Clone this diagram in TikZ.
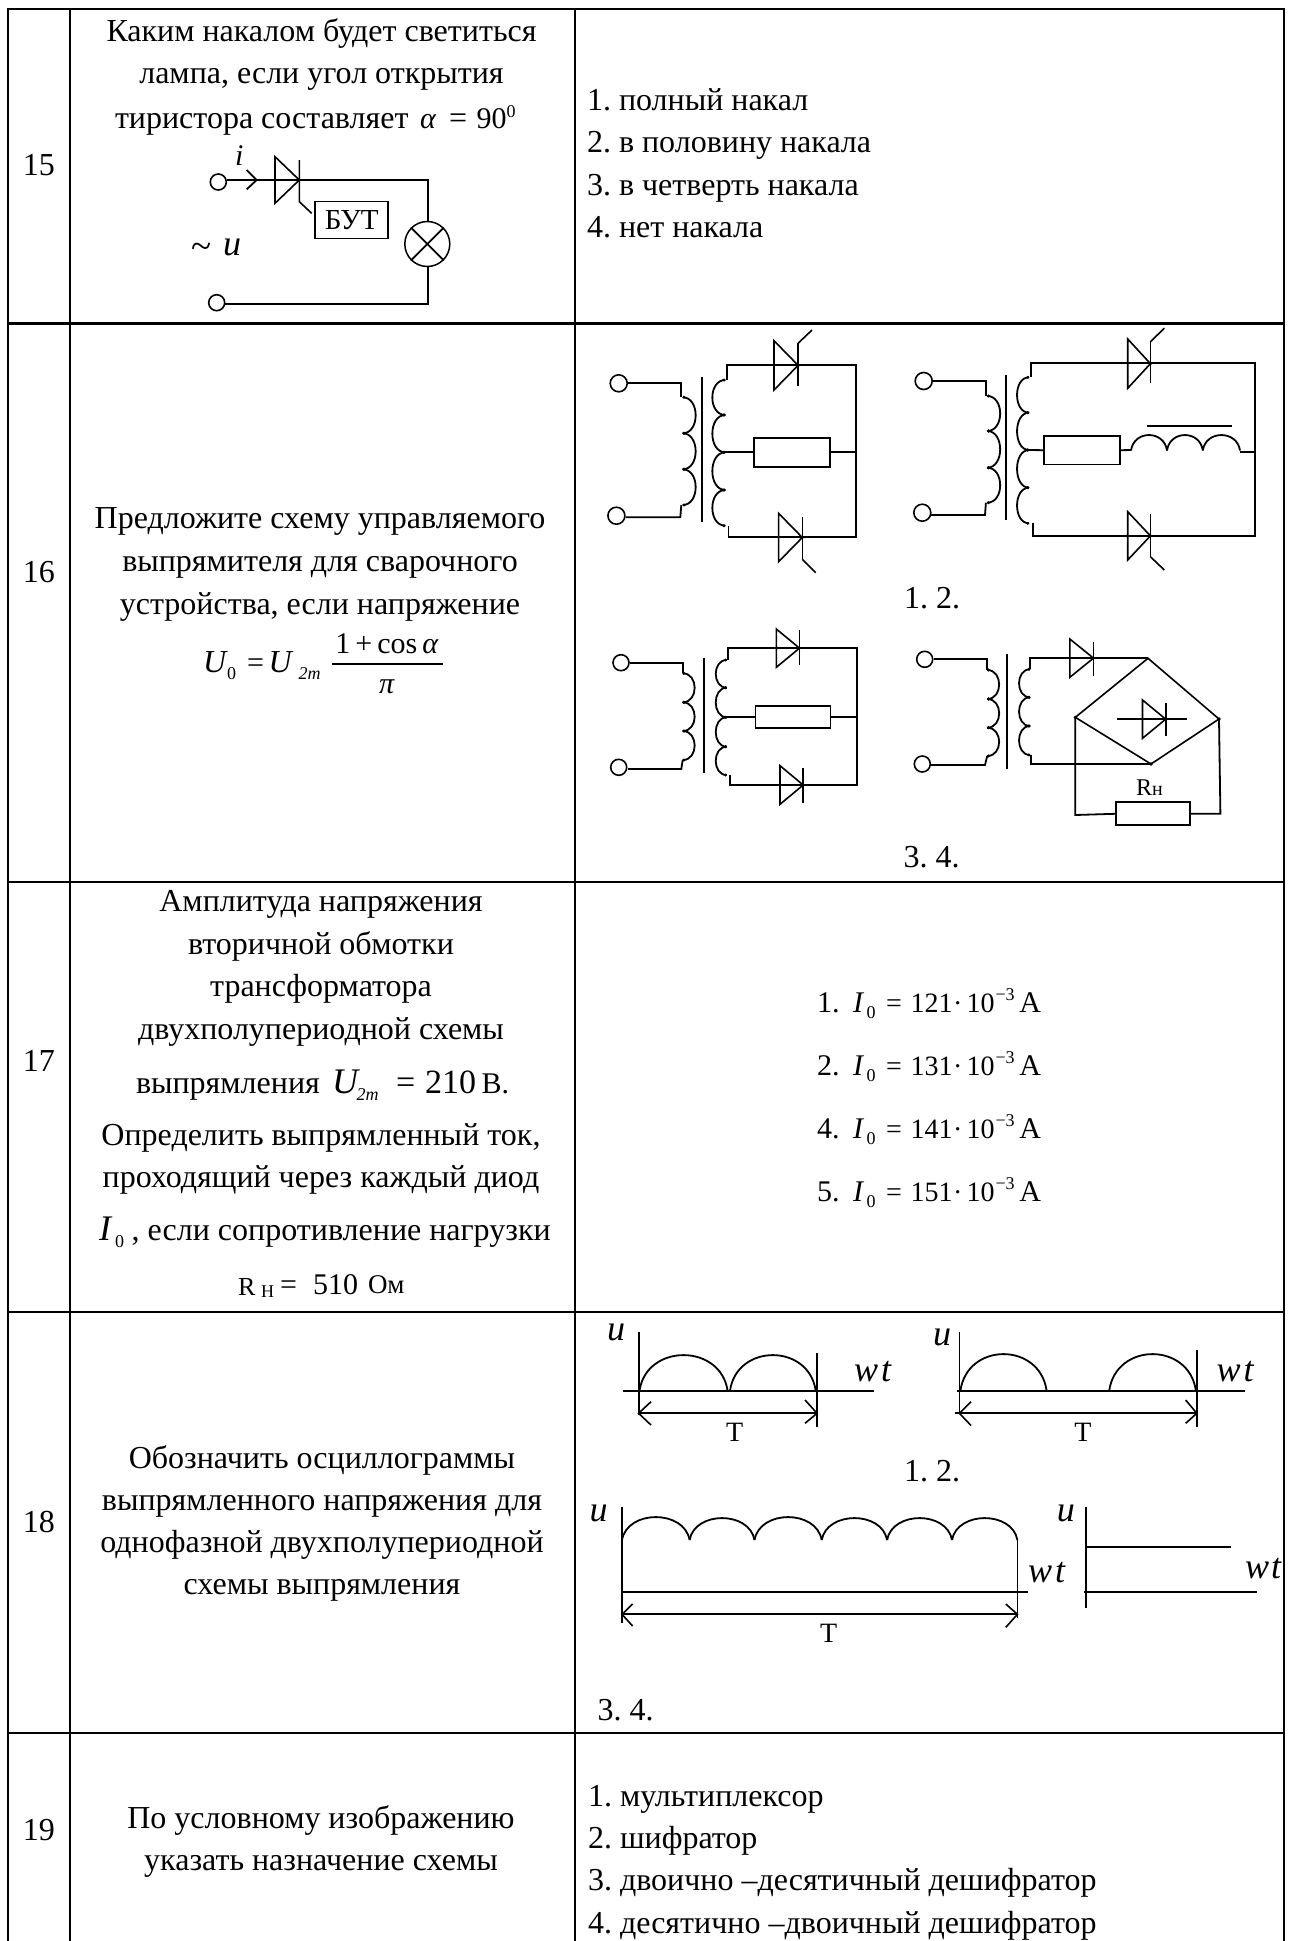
\documentclass[tikz,border=0pt]{standalone}
\usepackage{fontspec}
\setmainfont{Liberation Serif}
\newcommand\fsz[1]{\fontsize{#1}{#1}\selectfont\frenchspacing}
\newcommand\vcoil[3]{\foreach \a/\b in {#3}{\draw[wire] (#1,\a) .. controls ({#1+#2*1.33},\a) and ({#1+#2*1.33},\b) .. (#1,\b);\fill ({#1+#2*0.1},\a) circle (1.6);\fill ({#1+#2*0.1},\b) circle (1.6);}}
\newcommand\harc[4]{\draw[wire] (#1,#3) .. controls ({#1+(#2-#1)*0.08},{#3-(#3-#4)*1.33}) and ({#2-(#2-#1)*0.08},{#3-(#3-#4)*1.33}) .. (#2,#3);}
\newcommand\diode[6]{\draw[thin wire] (#1,#2) -- (#1,#3) -- (#4,{(#2+#3)/2}) -- cycle; \draw[thin wire] (#4,#5) -- (#4,#6); \fill (#4,{(#2+#3)/2}) circle (1.8);}
\tikzset{
  x=1pt,y=-1pt,
  wire/.style={line width=1.8pt,line join=miter},
  thin wire/.style={line width=1.6pt,line join=miter},
  tbl/.style={line width=2.6pt,line cap=rect},
  txt/.style={anchor=base,inner sep=0pt,outer sep=0pt,font=\fsz{32}},
  txtl/.style={txt,anchor=base west},
  smalll/.style={txtl,font=\fsz{28}},
  smallc/.style={txt,font=\fsz{28}},
  mathb/.style={txtl,font=\fsz{32}\itshape},
  subs/.style={txtl,font=\fsz{18}},
  subi/.style={txtl,font=\fsz{18}\itshape},
  plotlbl/.style={txtl,font=\fsz{36}\itshape},
  term/.style={line width=1.6pt,fill=white},
}
\begin{document}
\begin{tikzpicture}
\useasboundingbox (0,0) rectangle (1291,1941);
% table
\draw[tbl] (8,9) -- (1284,9);
\foreach \yy in {323.5,882,1312,1733} \draw[tbl] (8,\yy) -- (1284,\yy);
\foreach \xx in {8,70,575,1284} \draw[tbl,line cap=butt] (\xx,9) -- (\xx,1941);
% numbers
\node[txt] (n15) at (39,175) {15};
\node[txt] (n16) at (39,582) {16};
\node[txt] (n17) at (39,1071) {17};
\node[txt] (n18) at (39,1532) {18};
\node[txt] (n19) at (39,1840) {19};
% ---- row 15
\node[txt] (q15a) at (321.5,41.7) {Каким накалом будет светиться};
\node[txt] (q15b) at (321.5,83.3) {лампа, если угол открытия};
\node[txtl] (q15c) at (115,128.3) {тиристора составляет};
\node[txtl,font=\fsz{30}\itshape] (q15al) at (420,128.3) {α};
\node[txtl] (q15eq) at (449,128.3) {=};
\node[txtl,font=\fsz{30}] (q15n) at (476.7,128.3) {90};
\node[subs] (q15s) at (506.7,117) {0};
\foreach \nm/\yy/\tx in {a15a/110/{1. полный накал},a15b/152/{2. в половину накала},a15c/195/{3. в четверть накала},a15d/237/{4. нет накала}}
  \node[txtl] (\nm) at (587,\yy) {\tx};
% circuit 15
\draw[wire] (226.7,180) -- (428.3,180) -- (428.3,221.7);
\draw[wire] (428.3,266) -- (428.3,304) -- (225,304);
\draw[wire] (246.7,170) -- (256.7,180) -- (246.7,189.3);
\draw[term] (218.3,182) circle (8);
\draw[term] (216.7,302.7) circle (8);
\draw[thin wire] (275,156.7) -- (275,203.3) -- (299.3,180) -- cycle;
\draw[thin wire] (299.3,160) -- (299.3,201.7) -- (311.7,213.3);
\fill (299.3,180) circle (1.8);
\node[draw,line width=1.5pt,minimum width=73pt,minimum height=36.6pt,inner sep=0pt,font=\fsz{29}] (but) at (351.7,220) {БУТ};
\node[draw,circle,line width=1.5pt,minimum size=45pt,inner sep=0pt] (lamp) at (427.3,244) {};
\draw[wire] (lamp.north west) -- (lamp.south east);
\draw[wire] (lamp.north east) -- (lamp.south west);
\node[plotlbl,font=\fsz{30}\itshape] (li) at (235,165) {i};
\node[txtl,font=\fsz{37}] (ltil) at (191,258) {\textasciitilde};
\node[plotlbl] (lu) at (223,255) {u};
% ---- row 16 left
\node[txt] (q16a) at (320,528.3) {Предложите схему управляемого};
\node[txt] (q16b) at (320,571.7) {выпрямителя для сварочного};
\node[txt] (q16c) at (320,614.3) {устройства, если напряжение};
\node[mathb] (f1) at (203,672.7) {U};
\node[subs] (f2) at (227,679) {0};
\node[txtl,font=\fsz{30}] (f3) at (247,672.7) {=};
\node[mathb] (f4) at (268.7,672.7) {U};
\node[subs] (f5) at (298.7,679) {\textit{2m}};
\node[txt,font=\fsz{30}] (f6) at (387,653.3) {1\,+\,cos\,\textit{α}};
\draw[line width=1.4pt] (332,664) -- (443,664);
\node[txt,font=\fsz{30}\itshape] (f7) at (386.7,693.3) {π};
% ---- circuit 1
\draw[wire] (628,383.3) -- (681.3,383.3) -- (681.3,397.3);
\vcoil{682.7}{13}{397.3/433.3,433.3/469.3,469.3/505}
\draw[wire] (681.3,505) -- (680.3,517.3) -- (625.6,517.3);
\draw[term] (618.7,383.3) circle (8.5);
\draw[term] (616.4,515.7) circle (8.5);
\draw[thin wire] (702.1,376.7) -- (702.1,521.7);
\vcoil{725.3}{-13}{380/415,415/452.3,452.3/490,490/525.7}
\draw[wire] (726.7,380) -- (726.7,365) -- (856,365) -- (856,537.3) -- (728.5,537.3) -- (728.5,525.7);
\diode{774}{340.7}{390}{798.1}{343.3}{386}
\draw[thin wire] (798.1,343.3) -- (812,330);
\diode{778.6}{513.3}{561.7}{802.3}{516.7}{559.3}
\draw[thin wire] (802.3,559.3) -- (815.7,572.7);
\draw[wire] (724.4,452.3) -- (856,452.3);
\node[draw,fill=white,line width=1.8pt,minimum width=75.6pt,minimum height=28.4pt,inner sep=0pt] (r1) at (791.8,452.5) {};
% ---- circuit 2
\draw[wire] (932.5,381) -- (985.9,381) -- (985.9,396);
\vcoil{987.2}{13}{396/431,431/467.7,467.7/502.7}
\draw[wire] (985.9,502.7) -- (985,515) -- (930.7,515);
\draw[term] (923.7,381) circle (8.5);
\draw[term] (922.3,512.7) circle (8.5);
\draw[thin wire] (1005.8,375) -- (1005.8,520);
\vcoil{1029}{-12}{377.3/412.7,412.7/450,450/487.7,487.7/523.3}
\draw[wire] (1031.3,377.3) -- (1031.3,363.3) -- (1254.7,363.3) -- (1254.7,535.7) -- (1032.7,535.7) -- (1032.7,523.3);
\diode{1127.7}{339}{388.3}{1150.4}{341.7}{383.3}
\draw[thin wire] (1150.4,341.7) -- (1164.3,328.3);
\diode{1127.7}{511.7}{560}{1150.4}{514}{556.7}
\draw[thin wire] (1150.4,556.7) -- (1164.3,570);
\node[draw,line width=1.8pt,minimum width=76pt,minimum height=28.4pt,inner sep=0pt] (r2) at (1082.3,450.2) {};
\draw[wire] (1029,450) -- (r2.west);
\draw[wire] (r2.east) -- (1131,450);
\harc{1131}{1167}{450.5}{435}
\harc{1167}{1202.8}{450.5}{435}
\harc{1202.8}{1240}{450.5}{435}
\draw[wire] (1240,452.3) -- (1254.7,452.3);
\draw[wire] (1147.2,426) -- (1231.6,426);
\node[txt] (c12a) at (932,608.3) {1. 2.};
% ---- circuit 3
\draw[wire] (630.3,662.7) -- (682.7,662.7) -- (682.7,673.3);
\vcoil{682.7}{12}{673.3/702.3,702.3/731,731/760}
\draw[wire] (682.7,760) -- (681.3,769) -- (628,769);
\draw[term] (621,662.7) circle (8);
\draw[term] (618.7,767.3) circle (8);
\draw[thin wire] (704,657.7) -- (704,772.7);
\vcoil{726.7}{-11}{660/687.7,687.7/717.3,717.3/746.7,746.7/775}
\draw[wire] (727.6,660) -- (727.6,648.3) -- (857,648.3) -- (857,785) -- (730,785) -- (730,775);
\diode{776.3}{629}{667.3}{799.5}{630}{665}
\diode{780}{765.7}{804.3}{803.2}{768.3}{802.7}
\draw[wire] (725,717.3) -- (857,717.3);
\node[draw,fill=white,line width=1.8pt,minimum width=75pt,minimum height=22.3pt,inner sep=0pt] (r3) at (793,717.2) {};
% ---- circuit 4
\draw[wire] (934,659.3) -- (987.2,659.3) -- (987.2,670);
\vcoil{987.2}{12}{670/699,699/727.7,727.7/756}
\draw[wire] (987.2,756) -- (985,765) -- (930.7,765);
\draw[term] (924.7,659.3) circle (8);
\draw[term] (922.3,764) circle (8);
\draw[thin wire] (1007,654.3) -- (1007,769.3);
\vcoil{1030}{-11}{669.3/697.3,697.3/726,726/755}
\draw[wire] (1030,669.3) -- (1030,658.3) -- (1148,658.3);
\draw[wire] (1031.3,755) -- (1031.3,764) -- (1151,764);
\diode{1069.8}{639}{677.3}{1093.5}{641.7}{676}
\draw[thin wire] (1148,658.3) -- (1219,719) -- (1151,764) -- (1075.3,717.3) -- cycle;
\draw[thin wire] (1117,719) -- (1186.6,719);
\diode{1142.5}{700}{738.3}{1165.7}{702.7}{736}
\fill (1075.3,717.3) circle (1.8);
\fill (1219,719) circle (1.8);
\fill (1151,764) circle (1.8);
\node[draw,line width=1.8pt,minimum width=74.6pt,minimum height=23pt,inner sep=0pt] (r4) at (1153,813.8) {};
\draw[wire] (1075.3,717.3) -- (1075.3,815) -- (r4.west);
\draw[wire] (r4.east) -- (1220.4,813.8) -- (1219,719);
\node[txtl,font=\fsz{24}] (rh) at (1136,795) {R\fsz{20}н};
\node[txt] (c34a) at (931.6,867.3) {3. 4.};
% ---- row 17 left
\node[txt] (q17a) at (321,911.7) {Амплитуда напряжения};
\node[txt] (q17b) at (321,954) {вторичной обмотки};
\node[txt] (q17c) at (321,996.7) {трансформатора};
\node[txt] (q17d) at (321,1039.3) {двухполупериодной схемы};
\node[txtl] (q17e) at (136,1093.3) {выпрямления};
\node[txtl,font=\fsz{36}\itshape] (u2m) at (332,1093.3) {U};
\node[subi] (u2ms) at (356.7,1100) {2m};
\node[txtl,font=\fsz{34}] (u2eq) at (396,1093.3) {=};
\node[txtl,font=\fsz{34}] (u2v) at (425,1093.3) {210};
\node[txtl,font=\fsz{30}] (u2b) at (481.7,1093.3) {В.};
\node[txt] (q17f) at (321,1145) {Определить выпрямленный ток,};
\node[txt] (q17g) at (321,1187.3) {проходящий через каждый диод};
\node[txtl,font=\fsz{36}\itshape] (i0) at (99,1240.7) {I};
\node[subs] (i0s) at (115,1247) {0};
\node[txtl] (q17h) at (131.7,1240.7) {, если сопротивление нагрузки};
\node[txtl,font=\fsz{26}] (rr) at (238,1295) {R};
\node[txtl,font=\fsz{18}] (rrs) at (261,1297) {Н};
\node[txtl,font=\fsz{30}] (req) at (280,1294) {=};
\node[txtl,font=\fsz{30}] (r510) at (313,1294) {510};
\node[txtl,font=\fsz{27}] (rom) at (368,1293) {Ом};
% ---- row 17 right
\foreach \nm/\yy/\ll/\vv in {a/1012.3/1./121,b/1075.7/2./131,c/1138.3/4./141,d/1201.7/5./151}{
  \node[smalll,font=\fsz{30}] (p\nm1) at (817,\yy) {\ll};
  \node[txtl,font=\fsz{30}\itshape] (p\nm2) at (853,\yy) {I};
  \node[subs] (p\nm3) at (866.7,\yy+6) {0};
  \node[smalll] (p\nm4) at (886,\yy) {=};
  \node[smalll] (p\nm5) at (910.7,\yy) {\vv};
  \node[smalll] (p\nm8) at (953,\yy) {·};
  \node[smalll] (p\nm9) at (966.7,\yy) {10};
  \node[subs] (p\nm6) at (995.5,\yy-12) {−3};
  \node[txtl,font=\fsz{30}] (p\nm7) at (1019.3,\yy) {А};
}
% ---- row 18 left
\node[txt] (q18a) at (322,1468.3) {Обозначить осциллограммы};
\node[txt] (q18b) at (322,1510) {выпрямленного напряжения для};
\node[txt] (q18c) at (322,1552.7) {однофазной двухполупериодной};
\node[txt] (q18d) at (322,1594.3) {схемы выпрямления};
% plot 1
\draw[wire] (638.6,1332.3) -- (638.6,1415);
\draw[wire] (623.3,1390.7) -- (873.7,1390.7);
\draw[wire] (817.1,1353.3) -- (817.1,1427.3);
\draw[wire] (638.6,1413.3) -- (817.1,1413.3);
\harc{639.5}{727.6}{1390.7}{1355}
\harc{730}{815.7}{1390.7}{1355}
\draw[thin wire] (651,1401.7) -- (638.6,1413.3) -- (651,1425);
\draw[thin wire] (805,1400) -- (817.1,1413.3) -- (805,1423.3);
\node[smallc] (t1) at (734.6,1441.7) {Т};
\node[plotlbl] (u1) at (607,1340) {u};
\node[plotlbl] (w1) at (854,1381.7) {w\kern3pt t};
% plot 2
\draw[wire] (959.4,1332.3) -- (959.4,1413);
\draw[wire] (957,1390.7) -- (1244.5,1390.7);
\draw[wire] (1196.8,1350) -- (1196.8,1427.3);
\draw[wire] (954.8,1413.3) -- (1196.8,1413.3);
\harc{960.4}{1046.6}{1390.7}{1354}
\harc{1109.2}{1195.9}{1390.7}{1354}
\draw[thin wire] (971,1401.7) -- (959.4,1413.3) -- (971,1425.5);
\draw[thin wire] (1185.7,1400) -- (1196.8,1413.3) -- (1185.7,1423.3);
\node[smallc] (t2) at (1083,1441.7) {Т};
\node[plotlbl] (u2) at (933,1345) {u};
\node[plotlbl] (w2) at (1216.5,1381.7) {w\kern3pt t};
\node[txt] (c18a) at (932,1481.7) {1. 2.};
% plot 3
\draw[wire] (622,1506.7) -- (622,1623);
\harc{622}{689.6}{1540}{1517}
\harc{689.6}{754.5}{1540}{1518}
\harc{754.5}{821.7}{1540}{1517}
\harc{821.7}{887.1}{1540}{1518}
\harc{887.1}{952}{1540}{1518}
\harc{952}{1017.4}{1540}{1518}
\draw[wire] (1017.4,1540) -- (1017.4,1618.3);
\draw[wire] (622,1591.7) -- (1028,1591.7);
\draw[wire] (622,1614.3) -- (1017.4,1614.3);
\draw[thin wire] (632.6,1604) -- (622,1614.3) -- (632.6,1626);
\draw[thin wire] (1005.8,1604) -- (1017.4,1614.3) -- (1005.8,1627.3);
\node[smallc] (t3) at (828.7,1642.7) {Т};
\node[plotlbl] (u3) at (589.5,1521.7) {u};
\node[plotlbl] (w3) at (1028,1582.7) {w\kern3pt t};
% plot 4
\draw[wire] (1086,1506.7) -- (1086,1607.7);
\draw[wire] (1086,1546.7) -- (1230.6,1546.7);
\draw[wire] (1083.7,1591.7) -- (1257,1591.7);
\node[plotlbl] (u4) at (1056.8,1521.7) {u};
\node[plotlbl] (w4) at (1245,1578.3) {w\kern2pt t};
\node[txtl] (c34b) at (597.5,1720.7) {3. 4.};
% ---- row 19
\node[txt] (q19a) at (321,1828.3) {По условному изображению};
\node[txt] (q19b) at (321,1870) {указать назначение схемы};
\foreach \nm/\yy/\tx in {a19a/1806/{1. мультиплексор},a19b/1848.3/{2. шифратор},a19c/1890.7/{3. двоично –десятичный дешифратор},a19d/1933.3/{4. десятично –двоичный дешифратор}}
  \node[txtl] (\nm) at (588,\yy) {\tx};
\end{tikzpicture}
\end{document}
